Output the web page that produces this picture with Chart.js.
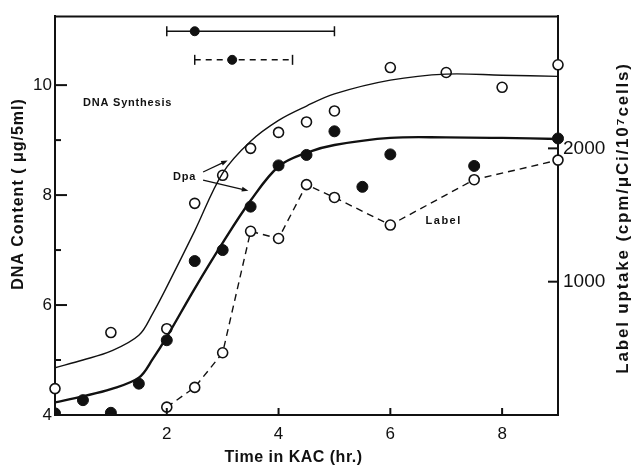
<!DOCTYPE html>
<html>
<head>
<meta charset="utf-8">
<script src="https://cdn.jsdelivr.net/npm/chart.js@4.4.1/dist/chart.umd.min.js"></script>
<style>
  html, body { margin: 0; padding: 0; background: #fff; }
</style>
</head>
<body>
<canvas id="chart" width="639" height="469"></canvas>
<script>
// Measured points: DNA content (filled), Dpa (open), label uptake (open, dashed, right axis)
const dnaHours = [0, 0.5, 1, 1.5, 2, 2.5, 3, 3.5, 4, 4.5, 5, 5.5, 6, 7.5, 9];
const dnaValues = [4.03, 4.27, 4.04, 4.57, 5.36, 6.8, 7.0, 7.79, 8.54, 8.73, 9.16, 8.15, 8.74, 8.53, 9.03];

const dpaHours = [0, 1, 2, 2.5, 3, 3.5, 4, 4.5, 5, 6, 7, 8, 9];
const dpaValues = [4.48, 5.5, 5.57, 7.85, 8.36, 8.85, 9.14, 9.33, 9.53, 10.32, 10.23, 9.96, 10.37];

const labelHours = [2, 2.5, 3, 3.5, 4, 4.5, 5, 6, 7.5, 9];
const labelUptake = [59, 207, 467, 1378, 1324, 1728, 1632, 1425, 1765, 1912];

// Hand-fitted curves through the two DNA series
const curveHours = [0, 0.5, 1, 1.5, 1.75, 2, 2.5, 3, 3.5, 4, 4.5, 5, 6, 7, 8, 9];
const dpaCurve = [4.86, 5.0, 5.16, 5.45, 5.85, 6.33, 7.35, 8.4, 8.98, 9.36, 9.62, 9.84, 10.09, 10.2, 10.18, 10.16];
const dnaCurve = [4.23, 4.34, 4.47, 4.68, 5.02, 5.42, 6.3, 7.13, 7.9, 8.52, 8.77, 8.91, 9.04, 9.05, 9.04, 9.02];

// Synthesis periods: [start, end], midpoint, height on the DNA axis
const solidSpan = [2, 5];
const solidMid = 2.5;
const solidLevel = 10.98;
const dashedSpan = [2.5, 4.25];
const dashedMid = 3.17;
const dashedLevel = 10.46;

// Tick labels
const xTickLabels = [2, 4, 6, 8];
const yTickLabels = [4, 6, 8, 10];
const y2TickLabels = [1000, 2000];

const INK = '#111';
const FONT = '"Liberation Sans", Arial, sans-serif';

Chart.defaults.font.family = FONT;
Chart.defaults.color = INK;

function pts(xs, ys) {
    return xs.map((x, i) => ({ x: x, y: ys[i] }));
}

function drawText(ctx, text, x, y, opts) {
    ctx.save();
    ctx.font = opts.font;
    ctx.fillStyle = INK;
    ctx.textAlign = opts.align || 'left';
    ctx.textBaseline = 'middle';
    if ('letterSpacing' in ctx) ctx.letterSpacing = (opts.spacing || 0) + 'px';
    ctx.translate(x, y);
    if (opts.rotate) ctx.rotate(opts.rotate);
    ctx.fillText(text, 0, 0);
    ctx.restore();
}

function drawArrow(ctx, x1, y1, x2, y2) {
    const a = Math.atan2(y2 - y1, x2 - x1);
    const len = 7;
    ctx.beginPath();
    ctx.moveTo(x1, y1);
    ctx.lineTo(x2 - Math.cos(a) * 4, y2 - Math.sin(a) * 4);
    ctx.stroke();
    ctx.beginPath();
    ctx.moveTo(x2, y2);
    ctx.lineTo(x2 - len * Math.cos(a - 0.35), y2 - len * Math.sin(a - 0.35));
    ctx.lineTo(x2 - len * Math.cos(a + 0.35), y2 - len * Math.sin(a + 0.35));
    ctx.closePath();
    ctx.fill();
}

// Inward tick marks, frame top, titles and annotations
const decorPlugin = {
    id: 'decor',
    afterDraw(chart) {
        const ctx = chart.ctx;
        const area = chart.chartArea;
        const sx = chart.scales.x;
        const sy = chart.scales.y;
        const sy2 = chart.scales.y2;

        ctx.save();
        ctx.strokeStyle = INK;
        ctx.fillStyle = INK;

        // top edge of the frame
        ctx.lineWidth = 2;
        ctx.beginPath();
        ctx.moveTo(area.left - 1, area.top);
        ctx.lineTo(area.right + 1, area.top);
        ctx.stroke();

        sy.ticks.forEach(t => {
            if (t.value > 10.5) return;
            const y = sy.getPixelForValue(t.value);
            const len = yTickLabels.includes(t.value) ? 12 : 6;
            ctx.beginPath();
            ctx.moveTo(area.left, y);
            ctx.lineTo(area.left + len, y);
            ctx.stroke();
        });
        xTickLabels.forEach(v => {
            const x = sx.getPixelForValue(v);
            ctx.beginPath();
            ctx.moveTo(x, area.bottom);
            ctx.lineTo(x, area.bottom - 7);
            ctx.stroke();
        });
        y2TickLabels.forEach(v => {
            const y = sy2.getPixelForValue(v);
            ctx.beginPath();
            ctx.moveTo(area.right, y);
            ctx.lineTo(area.right - 10, y);
            ctx.stroke();
        });

        // axis titles
        drawText(ctx, 'DNA Content ( \u03bcg/5ml)', 18.5, 194,
            { font: 'bold 16px ' + FONT, align: 'center', rotate: -Math.PI / 2, spacing: 1 });
        drawText(ctx, 'Label uptake (cpm/\u03bcCi/10\u2077cells)', 623, 218,
            { font: 'bold 17px ' + FONT, align: 'center', rotate: -Math.PI / 2, spacing: 1.8 });
        drawText(ctx, 'Time in KAC (hr.)', 293.5, 458,
            { font: 'bold 16px ' + FONT, align: 'center', spacing: 0.5 });

        // annotations
        drawText(ctx, 'DNA Synthesis', sx.getPixelForValue(0.5), sy.getPixelForValue(9.67),
            { font: 'bold 11px ' + FONT, spacing: 0.8 });
        drawText(ctx, 'Dpa', sx.getPixelForValue(2.11), sy.getPixelForValue(8.33),
            { font: 'bold 11px ' + FONT, spacing: 0.8 });
        drawText(ctx, 'Label', sx.getPixelForValue(6.63), sy.getPixelForValue(7.53),
            { font: 'bold 11px ' + FONT, spacing: 1.5 });

        ctx.lineWidth = 1.3;
        drawArrow(ctx, sx.getPixelForValue(2.65), sy.getPixelForValue(8.42),
            sx.getPixelForValue(3.09), sy.getPixelForValue(8.63));
        drawArrow(ctx, sx.getPixelForValue(2.65), sy.getPixelForValue(8.27),
            sx.getPixelForValue(3.46), sy.getPixelForValue(8.08));

        ctx.restore();
    }
};

const ctx = document.getElementById('chart').getContext('2d');

new Chart(ctx, {
    type: 'scatter',
    data: {
        datasets: [
            {
                label: 'DNA fit',
                data: pts(curveHours, dnaCurve),
                showLine: true,
                borderColor: INK,
                borderWidth: 2.4,
                pointRadius: 0,
                tension: 0.35,
                yAxisID: 'y'
            },
            {
                label: 'Dpa fit',
                data: pts(curveHours, dpaCurve),
                showLine: true,
                borderColor: INK,
                borderWidth: 1.4,
                pointRadius: 0,
                tension: 0.35,
                yAxisID: 'y'
            },
            {
                label: 'Label',
                data: pts(labelHours, labelUptake),
                showLine: true,
                borderColor: INK,
                borderWidth: 1.4,
                borderDash: [7, 5],
                pointRadius: 5,
                pointBackgroundColor: '#fff',
                pointBorderColor: INK,
                pointBorderWidth: 1.6,
                yAxisID: 'y2',
                clip: false
            },
            {
                label: 'DNA',
                data: pts(dnaHours, dnaValues),
                pointRadius: 5.5,
                pointBackgroundColor: INK,
                pointBorderColor: INK,
                pointBorderWidth: 1,
                yAxisID: 'y',
                clip: { left: 0, bottom: 0, right: 10, top: 10 }
            },
            {
                label: 'Dpa',
                data: pts(dpaHours, dpaValues),
                pointRadius: 5,
                pointBackgroundColor: '#fff',
                pointBorderColor: INK,
                pointBorderWidth: 1.6,
                yAxisID: 'y',
                clip: false
            },
            {
                label: 'DNA synthesis period',
                data: pts(solidSpan, [solidLevel, solidLevel]),
                showLine: true,
                borderColor: INK,
                borderWidth: 1.5,
                pointStyle: 'line',
                rotation: 90,
                pointRadius: 5,
                pointBorderColor: INK,
                pointBorderWidth: 1.5,
                yAxisID: 'y',
                clip: false
            },
            {
                label: 'DNA synthesis midpoint',
                data: pts([solidMid], [solidLevel]),
                pointRadius: 4.5,
                pointBackgroundColor: INK,
                pointBorderColor: INK,
                yAxisID: 'y',
                clip: false
            },
            {
                label: 'Label period',
                data: pts(dashedSpan, [dashedLevel, dashedLevel]),
                showLine: true,
                borderColor: INK,
                borderWidth: 1.5,
                borderDash: [6, 5],
                pointStyle: 'line',
                rotation: 90,
                pointRadius: 5,
                pointBorderColor: INK,
                pointBorderWidth: 1.5,
                yAxisID: 'y',
                clip: false
            },
            {
                label: 'Label midpoint',
                data: pts([dashedMid], [dashedLevel]),
                pointRadius: 4.5,
                pointBackgroundColor: INK,
                pointBorderColor: INK,
                yAxisID: 'y',
                clip: false
            }
        ]
    },
    options: {
        responsive: false,
        animation: false,
        events: [],
        layout: { padding: { top: 10, left: 0, right: 0, bottom: 0 } },
        plugins: {
            legend: { display: false },
            tooltip: { enabled: false }
        },
        scales: {
            x: {
                type: 'linear',
                position: 'bottom',
                min: 0,
                max: 9,
                grid: { display: false, drawTicks: false },
                border: { display: true, color: INK, width: 2 },
                ticks: {
                    stepSize: 1,
                    autoSkip: false,
                    maxRotation: 0,
                    padding: 9,
                    font: { size: 17 },
                    color: INK,
                    callback: v => xTickLabels.includes(v) ? String(v) : ''
                },
                afterFit: s => { s.height = 54; }
            },
            y: {
                type: 'linear',
                position: 'left',
                min: 4,
                max: 11.25,
                grid: { display: false, drawTicks: false },
                border: { display: true, color: INK, width: 2 },
                ticks: {
                    stepSize: 1,
                    autoSkip: false,
                    padding: 3,
                    font: { size: 17 },
                    color: INK,
                    callback: v => yTickLabels.includes(v) ? String(v) : ''
                },
                afterFit: s => { s.width = 55; }
            },
            y2: {
                type: 'linear',
                position: 'right',
                min: 0,
                max: 2990,
                display: true,
                grid: { display: false, drawTicks: false, drawOnChartArea: false },
                border: { display: true, color: INK, width: 2 },
                afterBuildTicks: s => {
                    s.ticks = y2TickLabels.map(v => ({ value: v }));
                },
                ticks: {
                    display: true,
                    autoSkip: false,
                    padding: 5,
                    font: { size: 19 },
                    color: INK,
                    callback: v => String(v)
                },
                afterFit: s => { s.width = 81; }
            }
        }
    },
    plugins: [decorPlugin]
});
</script>
</body>
</html>
